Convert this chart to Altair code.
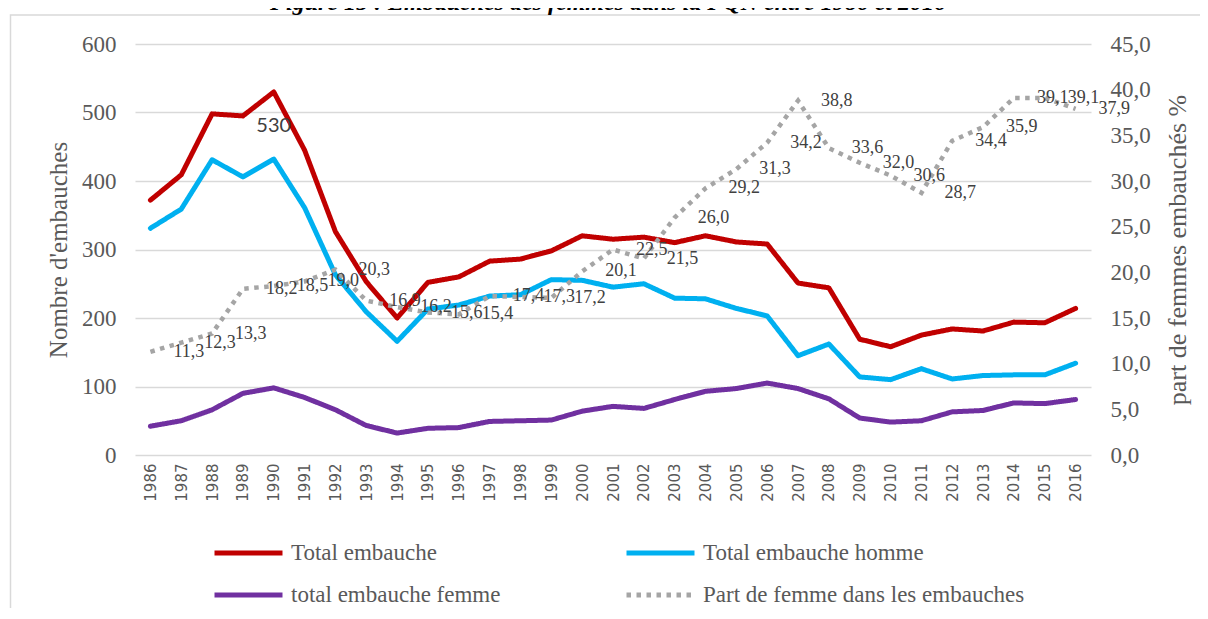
import altair as alt
import pandas as pd

years = [str(y) for y in range(1986, 2017)]
total = [372, 409, 498, 495, 530, 445, 326, 253, 200, 252, 260, 283, 286, 298, 320,
         315, 318, 310, 320, 311, 308, 251, 244, 169, 158, 175, 184, 181, 194, 193, 214]
homme = [331, 359, 431, 406, 432, 361, 263, 209, 166, 213, 219, 232, 234, 256, 255,
         245, 250, 229, 228, 214, 203, 145, 162, 114, 110, 126, 111, 116, 117, 117, 134]
femme = [42, 50, 66, 90, 98, 84, 66, 43, 32, 39, 40, 49, 50, 51, 64,
         71, 68, 81, 93, 97, 105, 97, 82, 54, 48, 50, 63, 65, 76, 75, 81]
part = [11.3, 12.3, 13.3, 18.2, 18.5, 19.0, 20.3, 16.9, 16.2, 15.6, 15.4, 17.4, 17.3, 17.2, 20.1,
        22.5, 21.5, 26.0, 29.2, 31.3, 34.2, 38.8, 33.6, 32.0, 30.6, 28.7, 34.4, 35.9, 39.1, 39.1, 37.9]

# legend order (column-major, 2 columns): Total / femme | homme / part
series_names = ["Total embauche", "total embauche femme", "Total embauche homme",
                "Part de femme dans les embauches"]
colors = ["#c00000", "#7030a0", "#00b0f0", "#a5a5a5"]
dashes = [[1, 0], [1, 0], [1, 0], [4.5, 5.5]]

left_axis_values = [0, 100, 200, 300, 400, 500, 600]
right_axis_values = [0, 5, 10, 15, 20, 25, 30, 35, 40, 45]

title_text = "Figure 15 : Embauches des femmes dans la FQN entre 1986 et 2016"
left_title = "Nombre d'embauches"
right_title = "part  de femmes embauchés %"

long_df = pd.DataFrame({
    "year": years * 3,
    "series": ["Total embauche"] * len(years) + ["Total embauche homme"] * len(years)
              + ["total embauche femme"] * len(years),
    "value": total + homme + femme,
})
pct_df = pd.DataFrame({"year": years, "series": "Part de femme dans les embauches", "pct": part})
deco_df = pd.DataFrame({"t": [title_text]})

SERIF = "Liberation Serif"
GREY = "#595959"

x_axis = alt.Axis(labelAngle=270, labelFont="DejaVu Sans", labelFontSize=15, labelColor=GREY,
                  labelPadding=8, ticks=False, domain=False, grid=False)
x_enc = alt.X("year:O", title=None, axis=x_axis)

legend = alt.Legend(orient="none", legendX=77, legendY=499, columns=2, columnPadding=123,
                    rowPadding=19, clipHeight=20, symbolType="stroke", symbolSize=4624,
                    symbolStrokeWidth=5, labelFont=SERIF, labelFontSize=23, labelColor=GREY,
                    labelOffset=6, labelLimit=600, padding=0, title=None)

color_enc = alt.Color("series:N", scale=alt.Scale(domain=series_names, range=colors), legend=legend)
dash_enc = alt.StrokeDash("series:N", scale=alt.Scale(domain=series_names, range=dashes), legend=legend)

left_scale = alt.Scale(domain=[0, 600], nice=False)
left_axis = alt.Axis(values=left_axis_values, labelFont=SERIF, labelFontSize=23, labelColor=GREY,
                     labelPadding=19, ticks=False, domain=False, grid=True, gridColor="#d9d9d9",
                     gridWidth=1.3, title=left_title, titleFont=SERIF, titleFontSize=25,
                     titleFontWeight="normal", titleColor=GREY, titlePadding=10)

right_scale = alt.Scale(domain=[0, 45], nice=False)
right_axis = alt.Axis(orient="right", values=right_axis_values,
                      labelExpr="replace(format(datum.value, '.1f'), '.', ',')",
                      labelFont=SERIF, labelFontSize=23, labelColor=GREY, labelPadding=19,
                      ticks=False, domain=False, grid=False, title=right_title, titleFont=SERIF,
                      titleFontSize=26, titleFontWeight="normal", titleColor=GREY,
                      titleAngle=270, titleBaseline="top", titlePadding=14)

lines_left = alt.Chart(long_df).mark_line(strokeWidth=5, strokeCap="round", strokeJoin="round").encode(
    x=x_enc,
    y=alt.Y("value:Q", scale=left_scale, axis=left_axis),
    color=color_enc,
    strokeDash=dash_enc,
)

label530 = alt.Chart(long_df).transform_filter(
    "datum.series == 'Total embauche' && datum.year == '1990'"
).mark_text(baseline="middle", dy=34, font="Lato", fontSize=20, color="#404040").encode(
    x=x_enc,
    y=alt.Y("value:Q", scale=left_scale, axis=left_axis),
    text=alt.Text("value:Q", format="d"),
)

dotted = alt.Chart(pct_df).mark_line(strokeWidth=4.5).encode(
    x=x_enc,
    y=alt.Y("pct:Q", scale=right_scale, axis=right_axis),
    color=color_enc,
    strokeDash=dash_enc,
)

pct_labels = alt.Chart(pct_df).transform_calculate(
    lbl="replace(format(datum.pct, '.1f'), '.', ',')"
).mark_text(align="left", baseline="middle", dx=23, font=SERIF, fontSize=18, color="#404040").encode(
    x=x_enc,
    y=alt.Y("pct:Q", scale=right_scale, axis=right_axis),
    text="lbl:N",
)

frame = alt.Chart(deco_df).mark_rect(fill="white", fillOpacity=0, stroke="#d9d9d9", strokeWidth=1.5).encode(
    x=alt.value(-124.5), x2=alt.value(1200), y=alt.value(-29), y2=alt.value(700)
)
title_mark = alt.Chart(deco_df).mark_text(
    font=SERIF, fontSize=24, fontWeight="bold", fontStyle="italic", align="center",
    baseline="alphabetic", color="#000000"
).encode(text="t:N", x=alt.value(473), y=alt.value(-34))

left = alt.layer(lines_left, label530)
right = alt.layer(dotted, pct_labels)

chart = alt.layer(frame, title_mark, left, right).resolve_scale(y="independent").properties(
    width=956, height=411,
    autosize=alt.AutoSizeParams(type="none"),
    padding={"left": 127, "top": 36, "right": 109, "bottom": 153},
).configure_view(strokeWidth=0)

chart.save("out.html", embed_options={"renderer": "svg", "actions": False})
